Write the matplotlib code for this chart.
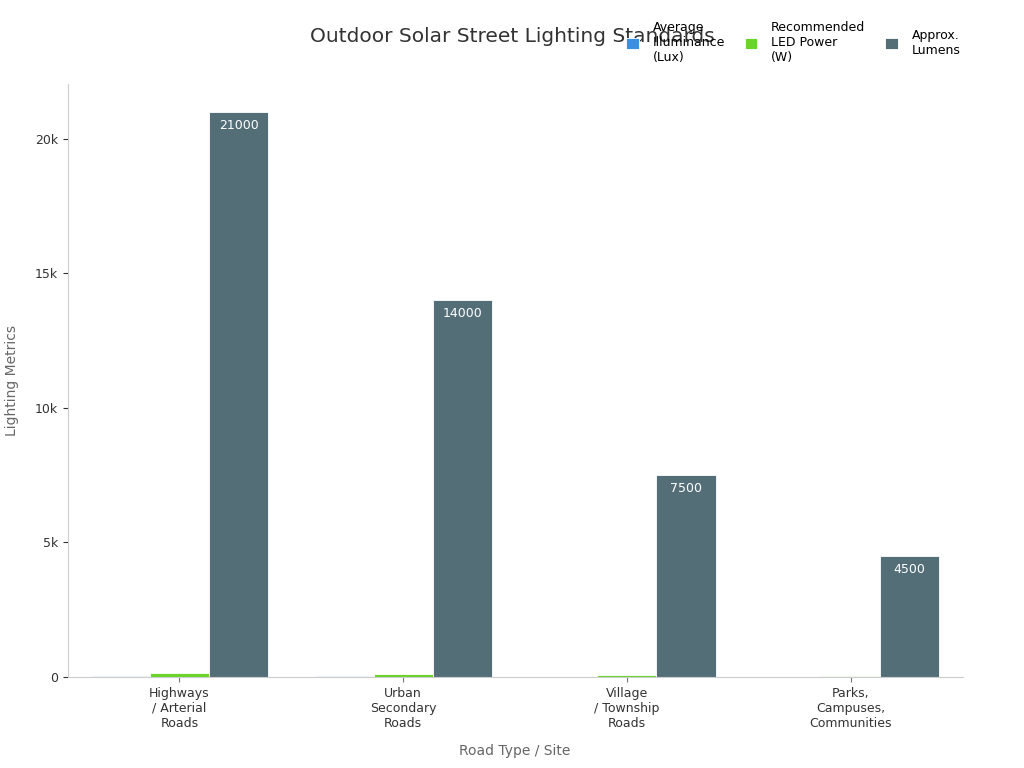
import numpy as np
import matplotlib
matplotlib.use("Agg")
import matplotlib.pyplot as plt
from matplotlib.ticker import FuncFormatter

# Data
categories = ["Highways\n/ Arterial\nRoads", "Urban\nSecondary\nRoads",
              "Village\n/ Township\nRoads", "Parks,\nCampuses,\nCommunities"]
series_names = ["Average\nIlluminance\n(Lux)", "Recommended\nLED Power\n(W)", "Approx.\nLumens"]
illuminance_lux = [30, 20, 10, 5]
led_power_w = [150, 100, 60, 30]
lumens = [21000, 14000, 7500, 4500]
colors = ["#3a8fe0", "#6ad42a", "#546e78"]

fig = plt.figure(figsize=(10.24, 7.68), dpi=100)
ax = fig.add_axes([0.066, 0.1185, 0.874, 0.7725])

x = np.arange(len(categories))
w = 0.264
all_series = [illuminance_lux, led_power_w, lumens]
for i, (vals, col, name) in enumerate(zip(all_series, colors, series_names)):
    bars = ax.bar(x + (i - 1) * w, vals, w, color=col, label=name,
                  edgecolor="white", linewidth=0.6)
    if i == 2:
        for b, v in zip(bars, vals):
            ax.text(b.get_x() + b.get_width() / 2, v - 250, str(v),
                    ha="center", va="top", color="white", fontsize=9)

ax.set_xlim(-0.5, 3.5)
ax.set_ylim(0, 22050)
ax.set_xticks(x)
ax.set_xticklabels(categories, fontsize=9, color="#333333")
ax.set_yticks([0, 5000, 10000, 15000, 20000])
ax.yaxis.set_major_formatter(FuncFormatter(lambda v, p: "0" if v == 0 else f"{int(v/1000)}k"))
ax.tick_params(axis="y", labelsize=9, colors="#333333")
ax.tick_params(axis="x", colors="#777777")
for lab in ax.get_xticklabels():
    lab.set_color("#333333")
for lab in ax.get_yticklabels():
    lab.set_color("#333333")
for s in ["top", "right"]:
    ax.spines[s].set_visible(False)
for s in ["left", "bottom"]:
    ax.spines[s].set_color("#cccccc")

ax.set_xlabel("Road Type / Site", fontsize=10, color="#666666", labelpad=10)
ax.set_ylabel("Lighting Metrics", fontsize=10, color="#666666", labelpad=11)

fig.text(0.5, 0.953, "Outdoor Solar Street Lighting Standards", ha="center", va="center",
         fontsize=14.5, color="#333333")

fig.legend(loc="upper right", bbox_to_anchor=(0.949, 0.987), ncol=3, frameon=False,
           fontsize=9, handlelength=1.0, handleheight=1.0, columnspacing=1.6,
           handletextpad=1.1)

fig.savefig("out.png", dpi=100)
